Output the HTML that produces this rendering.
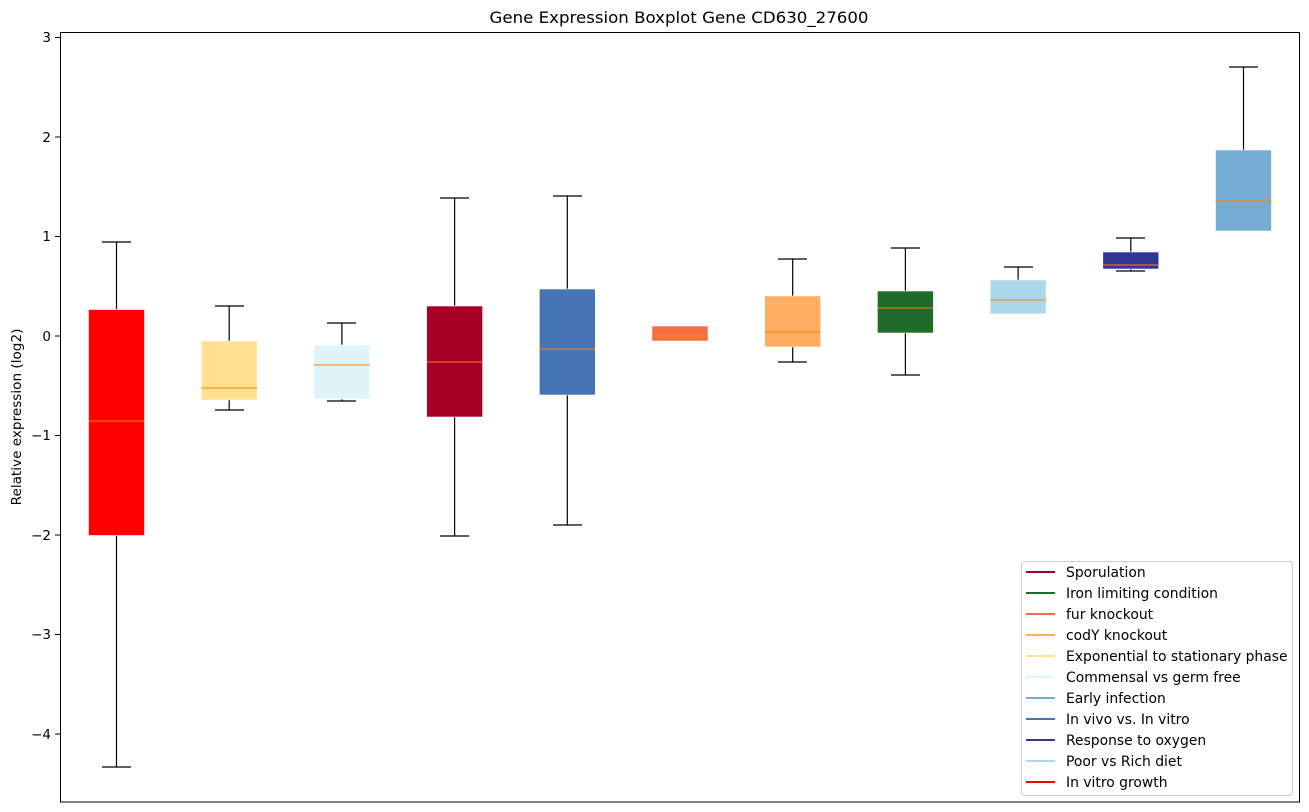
<!DOCTYPE html>
<html><head><meta charset="utf-8"><style>html,body{margin:0;padding:0;background:#fff}svg{display:block}</style></head>
<body>
<svg width="1309" height="812" xmlns="http://www.w3.org/2000/svg" font-family="'DejaVu Sans','Liberation Sans',sans-serif" font-size="13">
<rect width="1309" height="812" fill="#fff"/>
<text x="679" y="23" text-anchor="middle" font-size="16.2" textLength="379" lengthAdjust="spacingAndGlyphs">Gene Expression Boxplot Gene CD630_27600</text>
<text transform="translate(21,417) rotate(-90)" text-anchor="middle" font-size="13.6">Relative expression (log2)</text>
<g stroke="#000" stroke-width="1">
<line x1="55" y1="37.5" x2="60" y2="37.5"/><line x1="55" y1="137" x2="60" y2="137"/><line x1="55" y1="236.5" x2="60" y2="236.5"/><line x1="55" y1="336" x2="60" y2="336"/><line x1="55" y1="435.5" x2="60" y2="435.5"/><line x1="55" y1="535" x2="60" y2="535"/><line x1="55" y1="634.5" x2="60" y2="634.5"/><line x1="55" y1="734" x2="60" y2="734"/>
</g>
<g text-anchor="end" font-size="13.5">
<text x="51" y="42">3</text><text x="51" y="142">2</text><text x="51" y="241">1</text><text x="51" y="341">0</text><text x="51" y="440">−1</text><text x="51" y="540">−2</text><text x="51" y="639">−3</text><text x="51" y="739">−4</text>
</g>
<g stroke="#000" stroke-width="1.2">
<line x1="116.5" y1="242" x2="116.5" y2="767"/><line x1="102" y1="242" x2="131" y2="242"/><line x1="102" y1="767" x2="131" y2="767"/>
<line x1="229.2" y1="306" x2="229.2" y2="410"/><line x1="215" y1="306" x2="244" y2="306"/><line x1="215" y1="410" x2="244" y2="410"/>
<line x1="341.9" y1="323" x2="341.9" y2="401"/><line x1="327" y1="323" x2="356" y2="323"/><line x1="327" y1="401" x2="356" y2="401"/>
<line x1="454.6" y1="198" x2="454.6" y2="536"/><line x1="440" y1="198" x2="469" y2="198"/><line x1="440" y1="536" x2="469" y2="536"/>
<line x1="567.3" y1="196" x2="567.3" y2="525"/><line x1="553" y1="196" x2="582" y2="196"/><line x1="553" y1="525" x2="582" y2="525"/>
<line x1="792.7" y1="259" x2="792.7" y2="362"/><line x1="778" y1="259" x2="807" y2="259"/><line x1="778" y1="362" x2="807" y2="362"/>
<line x1="905.4" y1="248" x2="905.4" y2="375"/><line x1="891" y1="248" x2="920" y2="248"/><line x1="891" y1="375" x2="920" y2="375"/>
<line x1="1018.1" y1="267" x2="1018.1" y2="314"/><line x1="1004" y1="267" x2="1033" y2="267"/>
<line x1="1130.8" y1="238" x2="1130.8" y2="271"/><line x1="1116" y1="238" x2="1145" y2="238"/><line x1="1116" y1="271" x2="1145" y2="271"/>
<line x1="1243.5" y1="67" x2="1243.5" y2="230"/><line x1="1229" y1="67" x2="1258" y2="67"/>
</g>
<g stroke="#fff" stroke-width="0.6">
<rect x="88.5" y="309.5" width="56" height="226" fill="#ff0000"/>
<rect x="201.2" y="341" width="56" height="59" fill="#fee090"/>
<rect x="313.9" y="345" width="56" height="54" fill="#e0f3f8"/>
<rect x="426.6" y="306" width="56" height="111" fill="#a50026"/>
<rect x="539.3" y="289" width="56" height="106" fill="#4575b4"/>
<rect x="652" y="326" width="56" height="15" fill="#f46d43"/>
<rect x="764.7" y="296" width="56" height="51" fill="#fdae61"/>
<rect x="877.4" y="291" width="56" height="42" fill="#1f6b2a"/>
<rect x="990.1" y="280" width="56" height="34" fill="#abd9e9"/>
<rect x="1102.8" y="252" width="56" height="17" fill="#313695"/>
<rect x="1215.5" y="150" width="56" height="81" fill="#74add1"/>
</g>
<g stroke="#ff7f0e" stroke-width="1">
<line x1="88.5" y1="421" x2="144.5" y2="421"/>
<line x1="201.2" y1="388" x2="257.2" y2="388"/>
<line x1="313.9" y1="365" x2="369.9" y2="365"/>
<line x1="426.6" y1="362" x2="482.6" y2="362"/>
<line x1="539.3" y1="349" x2="595.3" y2="349"/>
<line x1="652" y1="336" x2="708" y2="336"/>
<line x1="764.7" y1="332" x2="820.7" y2="332"/>
<line x1="877.4" y1="308" x2="933.4" y2="308"/>
<line x1="990.1" y1="300" x2="1046.1" y2="300"/>
<line x1="1102.8" y1="265" x2="1158.8" y2="265"/>
<line x1="1215.5" y1="201" x2="1271.5" y2="201"/>
</g>
<rect x="60.5" y="32.5" width="1239" height="769.5" fill="none" stroke="#000" stroke-width="1"/>
<rect x="1021.5" y="561.5" width="271" height="234" rx="3" fill="#fff" fill-opacity="0.8" stroke="#ccc"/>
<g stroke-width="2">
<line x1="1026" y1="572" x2="1055" y2="572" stroke="#a50026"/>
<line x1="1026" y1="593" x2="1055" y2="593" stroke="#1a6a2a"/>
<line x1="1026" y1="614" x2="1055" y2="614" stroke="#f46d43"/>
<line x1="1026" y1="635" x2="1055" y2="635" stroke="#fdae61"/>
<line x1="1026" y1="656" x2="1055" y2="656" stroke="#fee090"/>
<line x1="1026" y1="677" x2="1055" y2="677" stroke="#e0f3f8"/>
<line x1="1026" y1="698" x2="1055" y2="698" stroke="#74add1"/>
<line x1="1026" y1="719" x2="1055" y2="719" stroke="#4575b4"/>
<line x1="1026" y1="740" x2="1055" y2="740" stroke="#313695"/>
<line x1="1026" y1="761" x2="1055" y2="761" stroke="#abd9e9"/>
<line x1="1026" y1="782" x2="1055" y2="782" stroke="#ff0000"/>
</g>
<g font-size="13.9">
<text x="1066" y="577">Sporulation</text>
<text x="1066" y="598">Iron limiting condition</text>
<text x="1066" y="619">fur knockout</text>
<text x="1066" y="640">codY knockout</text>
<text x="1066" y="661">Exponential to stationary phase</text>
<text x="1066" y="682">Commensal vs germ free</text>
<text x="1066" y="703">Early infection</text>
<text x="1066" y="724">In vivo vs. In vitro</text>
<text x="1066" y="745">Response to oxygen</text>
<text x="1066" y="766">Poor vs Rich diet</text>
<text x="1066" y="787">In vitro growth</text>
</g>
</svg>
</body></html>
